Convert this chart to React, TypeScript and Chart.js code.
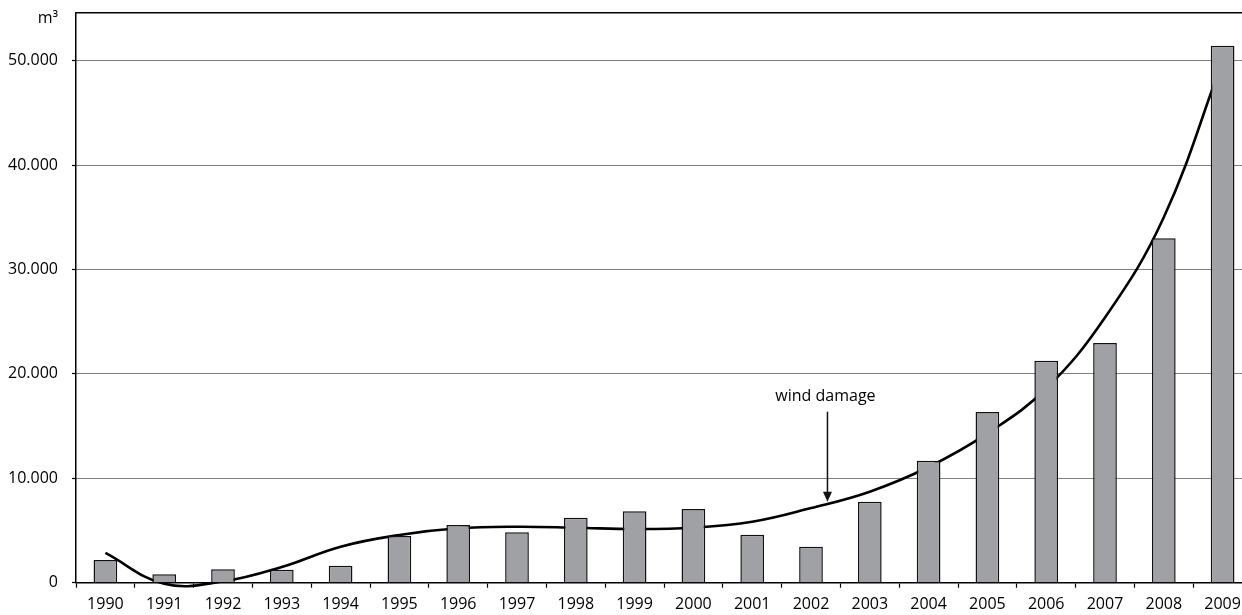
import React, { useEffect, useRef } from 'react';
import { Chart, registerables } from 'chart.js';

Chart.register(...registerables);

const years = ['1990', '1991', '1992', '1993', '1994', '1995', '1996', '1997', '1998', '1999', '2000', '2001', '2002', '2003', '2004', '2005', '2006', '2007', '2008', '2009'];
const volumes = [2170, 800, 1280, 1250, 1630, 4470, 5530, 4830, 6230, 6840, 7060, 4600, 3450, 7760, 11690, 16350, 21260, 22960, 33000, 51440];
const trend = [2850, -100, 120, 1500, 3450, 4570, 5210, 5360, 5270, 5140, 5270, 5840, 7150, 8720, 11080, 14300, 18600, 25400, 35000, 50000];
const yTicks = [0, 10000, 20000, 30000, 40000, 50000];
const yMin = 0;
const yMax = 54600;
const unitLabel = 'm³';
const annotationText = 'wind damage';
const annotationIndex = 12.28;
const annotationTextValue = 17400;
const annotationArrowTopValue = 16380;
const annotationArrowTipValue = 7760;

const FONT = "'Open Sans', 'Noto Sans', sans-serif";

const fmt = (v: number) => String(v).replace(/\B(?=(\d{3})+(?!\d))/g, '.');

const decorPlugin = {
  id: 'decor',
  afterDraw(chart: any) {
    const { ctx, chartArea, scales } = chart;
    const x = scales.x;
    const y = scales.y;
    ctx.save();
    ctx.strokeStyle = '#000';
    ctx.lineWidth = 1.5;
    ctx.beginPath();
    ctx.moveTo(chartArea.left, chartArea.top);
    ctx.lineTo(chartArea.right, chartArea.top);
    ctx.stroke();

    ctx.fillStyle = '#000';
    ctx.font = `16px ${FONT}`;
    ctx.textAlign = 'right';
    ctx.textBaseline = 'alphabetic';
    ctx.fillText(unitLabel, 58, 23);

    const ax = x.getPixelForValue(annotationIndex);
    const ty = y.getPixelForValue(annotationTextValue);
    const y1 = y.getPixelForValue(annotationArrowTopValue);
    const y2 = y.getPixelForValue(annotationArrowTipValue);
    ctx.textAlign = 'center';
    ctx.fillText(annotationText, ax - 2, ty);
    ctx.strokeStyle = '#111';
    ctx.lineWidth = 1.5;
    ctx.beginPath();
    ctx.moveTo(ax, y1);
    ctx.lineTo(ax, y2 - 8);
    ctx.stroke();
    ctx.fillStyle = '#111';
    ctx.beginPath();
    ctx.moveTo(ax, y2);
    ctx.lineTo(ax - 4.5, y2 - 10);
    ctx.lineTo(ax + 4.5, y2 - 10);
    ctx.closePath();
    ctx.fill();
    ctx.restore();
  },
};

export default function App() {
  const canvasRef = useRef<HTMLCanvasElement | null>(null);

  useEffect(() => {
    document.body.style.margin = '0';
    const canvas = canvasRef.current;
    if (!canvas) return;
    Chart.defaults.font.family = FONT;
    Chart.defaults.color = '#000';
    const chart = new Chart(canvas, {
      type: 'bar',
      data: {
        labels: years,
        datasets: [
          {
            type: 'bar',
            data: volumes,
            backgroundColor: '#a0a1a5',
            borderColor: '#111',
            borderWidth: 1.5,
            barPercentage: 0.403,
            categoryPercentage: 1,
            order: 1,
          } as any,
          {
            type: 'line',
            data: trend,
            borderColor: '#000',
            borderWidth: 2.6,
            pointRadius: 0,
            tension: 0.4,
            fill: false,
            clip: 8,
            order: 2,
          } as any,
        ],
      },
      options: {
        animation: false,
        responsive: false,
        events: [],
        layout: { padding: { top: 12.7, right: 10, left: 0, bottom: 0 } },
        plugins: {
          legend: { display: false },
          tooltip: { enabled: false },
        },
        scales: {
          x: {
            grid: {
              display: true,
              drawOnChartArea: false,
              drawTicks: true,
              tickLength: 5,
              tickColor: '#000',
              tickWidth: 1.2,
              offset: true,
            },
            border: { display: true, color: '#000', width: 1.5 },
            ticks: {
              font: { size: 16, family: FONT },
              color: '#000',
              padding: 7,
              maxRotation: 0,
              autoSkip: false,
            },
            afterFit: (scale: any) => {
              scale.height = 32.3;
              scale.paddingLeft = 0;
              scale.paddingRight = 0;
            },
          },
          y: {
            min: yMin,
            max: yMax,
            grid: {
              color: '#000',
              lineWidth: 1,
              drawTicks: true,
              tickLength: 4,
              tickColor: '#000',
              tickWidth: 1.2,
              tickBorderDash: [],
            },
            border: { display: true, color: '#000', width: 1.5, dash: [1, 1] },
            ticks: {
              autoSkip: false,
              font: { size: 16, family: FONT },
              color: '#000',
              padding: 14,
              callback: (v: any) => fmt(Number(v)),
            },
            afterBuildTicks: (scale: any) => {
              scale.ticks = yTicks.map((v) => ({ value: v }));
            },
            afterFit: (scale: any) => {
              scale.width = 76;
              scale.paddingTop = 0;
              scale.paddingBottom = 0;
            },
          },
        },
      },
      plugins: [decorPlugin],
    } as any);
    return () => chart.destroy();
  }, []);

  return (
    <div style={{ width: 1242, height: 615, overflow: 'hidden', position: 'relative' }}>
      <canvas ref={canvasRef} width={1262} height={615} style={{ display: 'block', width: 1262, height: 615 }} />
    </div>
  );
}
